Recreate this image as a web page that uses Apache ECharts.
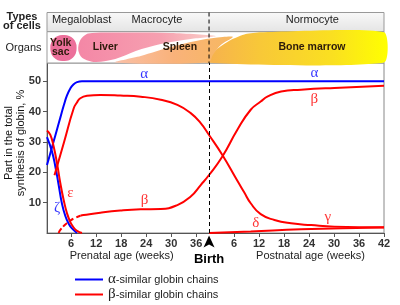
<!DOCTYPE html>
<html><head><meta charset="utf-8">
<script src="https://cdn.jsdelivr.net/npm/echarts@6/dist/echarts.min.js"></script>
<style>html,body{margin:0;padding:0;background:#fff}#c{width:400px;height:305px}</style>
</head><body><div id="c"></div>
<script>
// ---- data (x = weeks since conception, y = % of total globin synthesis) ----
const BIRTH = 39.1;
const X_MIN = 0.2;
const X_MAX = BIRTH + 42;
const prenatalTicks = [6, 12, 18, 24, 30, 36];
const postnatalTicks = [6, 12, 18, 24, 30, 36, 42];
const yTicks = [10, 20, 30, 40, 50];

const alphaData = [[0.2,22.4],[1.0,26.3],[1.8,30.2],[2.6,34.1],[3.4,38],[4.2,41.9],[5.0,45.3],[5.8,47.6],[6.6,49.0],[7.4,49.7],[8.6,50],[20,50],[40,50],[60,50],[81.1,50]];
const zetaData = [[0.2,31.6],[1.4,26.8],[2.2,21.9],[3.0,15.8],[3.8,9.6],[4.6,5.6],[5.4,3.1],[6.2,1.5],[7.4,0]];
const epsilonData = [[0.2,33.8],[1.0,32.3],[1.8,28.5],[2.6,23],[3.4,16.4],[4.2,10.9],[5.0,6.5],[5.8,3.6],[6.6,1.8],[7.4,0.7],[8.6,0]];
const gammaData = [[2.0,19],[4.3,30],[6.6,41],[7.4,43],[8.2,44.4],[9.8,45.2],[13,45.5],[17.8,45.3],[22.7,44.9],[27.5,43.9],[31.5,42.2],[34.7,39.5],[37.1,36.2],[39.1,32.3],[42.3,25.7],[45.9,17.2],[47.5,13.5],[49.1,9.8],[51.5,6.2],[54.8,4.3],[58.8,3.2],[63.6,2.6],[69.2,2.1],[81.1,1.9]];
const betaEarlyData = [[3.0,0],[3.4,1],[4.6,2.8],[5.8,4.1],[7.0,5.0],[8.2,5.7]];
const betaData = [[8.2,5.7],[9.0,5.9],[13,6.7],[17.8,7.4],[22.7,7.8],[27.5,7.9],[31.5,9.2],[34.7,12],[37.1,15.8],[39.1,19.1],[42.3,25.2],[45.9,34],[49.1,40.6],[51.5,43.3],[53.2,45],[56.4,46.6],[61.2,47.2],[69.2,47.8],[81.1,48.5]];
const deltaData = [[39.1,0],[49.1,0.5],[61.2,1.2],[81.1,1.8]];

const greekLabels = [
  {name:'α', value:[23.5,52.3], c:'blue'},
  {name:'α', value:[64.4,52.7], c:'blue'},
  {name:'β', value:[64.4,44.1], c:'red'},
  {name:'β', value:[23.6,10.7], c:'red'},
  {name:'γ', value:[67.6,5.4], c:'red'},
  {name:'δ', value:[50.3,3.4], c:'red'},
  {name:'ε', value:[5.8,13.1], c:'red'},
  {name:'ζ', value:[2.6,8.2], c:'blue'}
];
const cellTypes = [{name:'Megaloblast', x:8.5}, {name:'Macrocyte', x:26.6}, {name:'Normocyte', x:63.9}];
const organs = [{name:'Yolk\nsac', x:3.5}, {name:'Liver', x:14.2}, {name:'Spleen', x:32.1}, {name:'Bone marrow', x:63.8}];

const A_NAME = 'α-similar globin chains';
const B_NAME = 'β-similar globin chains';
const BLUE = '#0000ff', RED = '#ff0000';

// organ band shapes (x in weeks, h = height inside header band)
const HB_TOP = 50.5, HB_SEP = 31.3;
const marrowShape = [[38.3,0.5],[40.7,13],[44.3,23],[47.9,29],[51.5,30.8],[X_MAX,30.8],[X_MAX,0.5]];
const spleenShape = [[16.6,0.5],[22.7,7],[29.9,16],[37.1,23],[42.4,26],[44.8,26],[41.9,18],[40.0,8],[39.0,0.5]];
const liverShape = [[8.2,23],[10.1,29.5],[17.8,30.5],[29.9,30],[40.7,27],[34.7,24],[27.5,19],[21.5,12],[16.6,4],[11.8,1],[8.7,5],[7.7,13]];

const xTickValues = prenatalTicks.concat(postnatalTicks.map(t => BIRTH + t));

function renderHeader(params, api) {
  const p = (x, h) => api.coord([x, h]);
  const poly = (pts, fill, smooth) => ({type:'polygon', shape:{points: pts.map(q => p(q[0], q[1])), smooth: smooth || 0}, style:{fill}});
  const a = p(X_MIN, HB_TOP), b = p(X_MAX, 0), m = p(X_MIN, HB_SEP);
  const G = echarts.graphic.LinearGradient;
  const ch = [];
  ch.push({type:'rect', shape:{x:a[0], y:a[1], width:b[0]-a[0], height:m[1]-a[1]},
    style:{fill:new G(0,0,0,1,[{offset:0,color:'#f9f9f9'},{offset:1,color:'#e4e4e4'}]), stroke:'#999', lineWidth:1}});
  ch.push({type:'rect', shape:{x:a[0], y:m[1], width:b[0]-a[0], height:b[1]-m[1]}, style:{fill:'#fff', stroke:'#999', lineWidth:1}});
  ch.push(poly(marrowShape, new G(0,0,1,0,[{offset:0,color:'#f6b050'},{offset:0.3,color:'#f8c838'},{offset:0.7,color:'#fae020'},{offset:1,color:'#ffff00'}]), 0.2));
  ch.push(poly(spleenShape, new G(0,0,1,0,[{offset:0,color:'#fac0a8'},{offset:0.5,color:'#f9b27a'},{offset:1,color:'#f7b860'}]), 0.3));
  ch.push(poly(liverShape, new G(0,0,1,0,[{offset:0,color:'#f487a6'},{offset:0.6,color:'#f6a0b0'},{offset:1,color:'#fad0c8'}]), 0.3));
  const y1 = p(1.0, 28), y2 = p(7.3, 2);
  ch.push({type:'rect', shape:{x:y1[0], y:y1[1], width:y2[0]-y1[0], height:y2[1]-y1[1], r:12}, style:{fill:'#ec6f9a'}});
  cellTypes.forEach(c => { const q = p(c.x, 43); ch.push({type:'text', x:q[0], y:q[1], style:{text:c.name, fill:'#222', font:'11px "Liberation Sans"', align:'center', verticalAlign:'middle'}}); });
  organs.forEach(o => { const q = p(o.x, 15.5); ch.push({type:'text', x:q[0], y:q[1], style:{text:o.name, fill:'#2b1a0a', font:'bold 10.5px "Liberation Sans"', lineHeight:9.5, align:'center', verticalAlign:'middle'}}); });
  const t = p(BIRTH, HB_TOP), bt = p(BIRTH, 0);
  ch.push({type:'line', shape:{x1:t[0], y1:t[1], x2:bt[0], y2:bt[1]}, style:{stroke:'#000', lineWidth:1, lineDash:[4,3]}});
  return {type:'group', children: ch};
}

const lineSeries = (name, data, color, extra) => Object.assign({
  type:'line', name, data, xAxisIndex:0, yAxisIndex:0, symbol:'none', showSymbol:false,
  smooth:0.5, lineStyle:{color, width:2}, itemStyle:{color}, silent:true, z:3
}, extra || {});

const chart = echarts.init(document.getElementById('c'), null, {renderer:'canvas'});
chart.setOption({
  animation:false,
  textStyle:{fontFamily:'Liberation Sans'},
  grid:[
    {left:47, right:16, top:63, bottom:72, show:true, borderColor:'#888', borderWidth:1, backgroundColor:'transparent'},
    {left:47, right:16, top:12.5, height:50.5, show:false}
  ],
  xAxis:[
    {type:'value', gridIndex:0, min:X_MIN, max:X_MAX,
     axisLine:{show:true, onZero:false, lineStyle:{color:'#555', width:1}},
     axisTick:{show:true, length:4, lineStyle:{color:'#555'}, customValues:xTickValues},
     axisLabel:{show:true, customValues:xTickValues, margin:5, fontSize:11, fontWeight:'bold', color:'#333',
       formatter: v => v < BIRTH ? String(Math.round(v)) : String(Math.round(v - BIRTH))},
     splitLine:{show:false}},
    {type:'value', gridIndex:1, min:X_MIN, max:X_MAX, show:false}
  ],
  yAxis:[
    {type:'value', gridIndex:0, min:0, max:56,
     axisLine:{show:true, lineStyle:{color:'#555', width:1}},
     axisTick:{show:true, length:4, lineStyle:{color:'#555'}, customValues:yTicks},
     axisLabel:{show:true, customValues:yTicks, margin:6, fontSize:11, fontWeight:'bold', color:'#333'},
     splitLine:{show:false}},
    {type:'value', gridIndex:1, min:0, max:HB_TOP, show:false}
  ],
  legend:{
    data:[A_NAME, B_NAME], orient:'vertical', left:75, top:272, padding:0, itemWidth:28, itemHeight:2, itemGap:0,
    icon:'rect', selectedMode:false,
    formatter: n => '{g|' + n[0] + '}{t|' + n.slice(1) + '}',
    textStyle:{color:'#222', rich:{g:{fontFamily:'Liberation Serif', fontSize:15, lineHeight:13, color:'#222'}, t:{fontFamily:'Liberation Sans', fontSize:11, lineHeight:13, color:'#222'}}}
  },
  graphic:[
    {type:'text', x:22, y:21.5, style:{text:'Types\nof cells', font:'bold 11px "Liberation Sans"', lineHeight:9, fill:'#222', align:'center', verticalAlign:'middle'}},
    {type:'text', x:23.5, y:48, style:{text:'Organs', font:'11px "Liberation Sans"', fill:'#222', align:'center', verticalAlign:'middle'}},
    {type:'text', x:15, y:143, rotation:Math.PI/2, style:{text:'Part in the total\nsynthesis of globin, %', font:'11px "Liberation Sans"', lineHeight:11.5, fill:'#111', align:'center', verticalAlign:'middle'}},
    {type:'text', x:121.7, y:255.5, style:{text:'Prenatal age (weeks)', font:'11px "Liberation Sans"', fill:'#222', align:'center', verticalAlign:'middle'}},
    {type:'text', x:310.5, y:255.5, style:{text:'Postnatal age (weeks)', font:'11px "Liberation Sans"', fill:'#222', align:'center', verticalAlign:'middle'}}
  ],
  series:[
    {type:'custom', xAxisIndex:1, yAxisIndex:1, data:[[0,0]], renderItem:renderHeader, silent:true, clip:false, z:1},
    lineSeries(A_NAME, alphaData, BLUE, {
      markLine:{silent:true, symbol:['none','none'], label:{show:false}, lineStyle:{color:'#000', width:1, type:[4,3]}, data:[{xAxis:BIRTH}]},
      markPoint:{silent:true, data:[{coord:[BIRTH,0], symbol:'path://M5 0 L10 12 L5 9 L0 12 Z', symbolSize:[11,12], symbolOffset:[0,8.5],
        itemStyle:{color:'#000'}, label:{show:true, position:'bottom', distance:5, formatter:'Birth', fontSize:13, fontWeight:'bold', color:'#000'}}]}
    }),
    lineSeries(A_NAME, zetaData, BLUE),
    lineSeries(B_NAME, gammaData, RED),
    lineSeries(B_NAME, betaData, RED),
    lineSeries(B_NAME, betaEarlyData, RED, {lineStyle:{color:RED, width:2, type:[5,3]}}),
    lineSeries(B_NAME, epsilonData, RED),
    lineSeries(B_NAME, deltaData, RED),
    {type:'scatter', name:'labels', xAxisIndex:0, yAxisIndex:0, symbolSize:1, itemStyle:{color:'rgba(0,0,0,0)'}, silent:true, z:4,
     data: greekLabels.map(g => ({name:g.name, value:g.value, label:{color:g.c}})),
     label:{show:true, position:'inside', formatter: p => p.name, fontFamily:'Liberation Serif', fontSize:15}}
  ]
});
</script></body></html>
